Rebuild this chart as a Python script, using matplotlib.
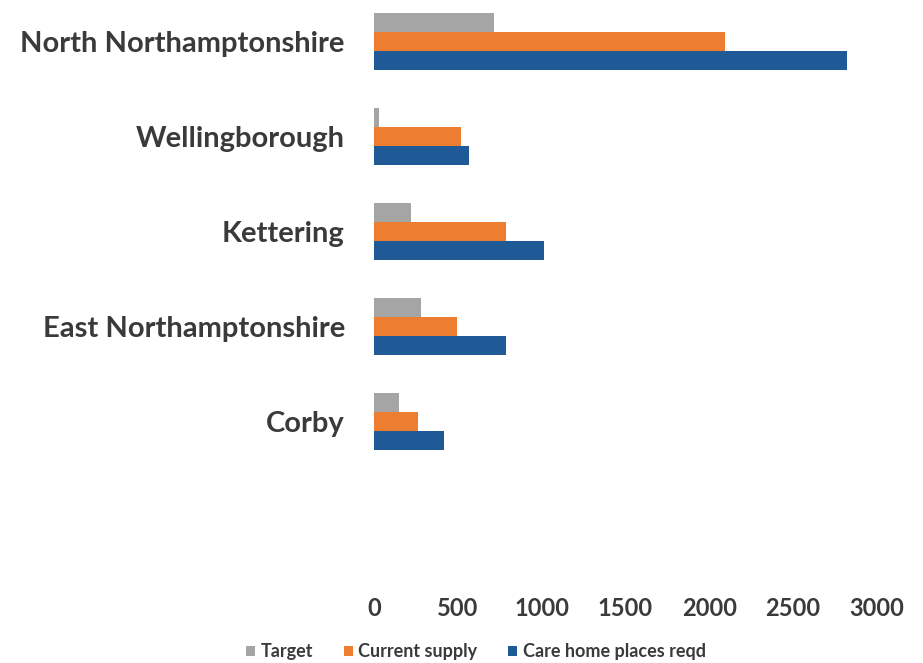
import numpy as np
import matplotlib
matplotlib.use("Agg")
import matplotlib.pyplot as plt

# ----- Data -----
areas = ["North Northamptonshire", "Wellingborough", "Kettering",
         "East Northamptonshire", "Corby"]
target = [716, 30, 220, 280, 150]
current_supply = [2093, 519, 787, 495, 262]
places_reqd = [2820, 566, 1014, 787, 417]

grey = "#A5A5A5"
orange = "#ED7D31"
blue = "#1F5A96"
text_col = "#3A3A3A"

plt.rcParams["font.family"] = ["Lato", "DejaVu Sans"]

W, H = 923, 663
fig = plt.figure(figsize=(W / 100, H / 100), dpi=100)
left, right, top, bottom = 374, 877, 0, 585
ax = fig.add_axes([left / W, 1 - bottom / H, (right - left) / W, (bottom - top) / H])

y = np.arange(len(areas))
h = 0.2
ax.barh(y - h, target, height=h, color=grey, label="Target")
ax.barh(y, current_supply, height=h, color=orange, label="Current supply")
ax.barh(y + h, places_reqd, height=h, color=blue, label="Care home places reqd")

ax.set_xlim(0, 3000)
ax.set_ylim(5.72, -0.44)
ax.set_xticks(np.arange(0, 3001, 500))
ax.set_yticks(y)
ax.set_yticklabels(areas, fontsize=21, fontweight="bold", color=text_col)
ax.tick_params(axis="x", labelsize=17, labelcolor=text_col, length=0, pad=9)
ax.tick_params(axis="y", length=0, pad=21)
for lab in ax.get_xticklabels():
    lab.set_fontweight("bold")
for s in ax.spines.values():
    s.set_visible(False)
ax.grid(False)

leg = fig.legend(loc="center", bbox_to_anchor=(476 / W, 1 - 652 / H), ncol=3,
                 frameon=False, fontsize=13, handlelength=0.5, handleheight=0.5,
                 handletextpad=0.3, columnspacing=1.7, labelcolor=text_col)
for t in leg.get_texts():
    t.set_fontweight("bold")

fig.savefig("out.png", dpi=100)
